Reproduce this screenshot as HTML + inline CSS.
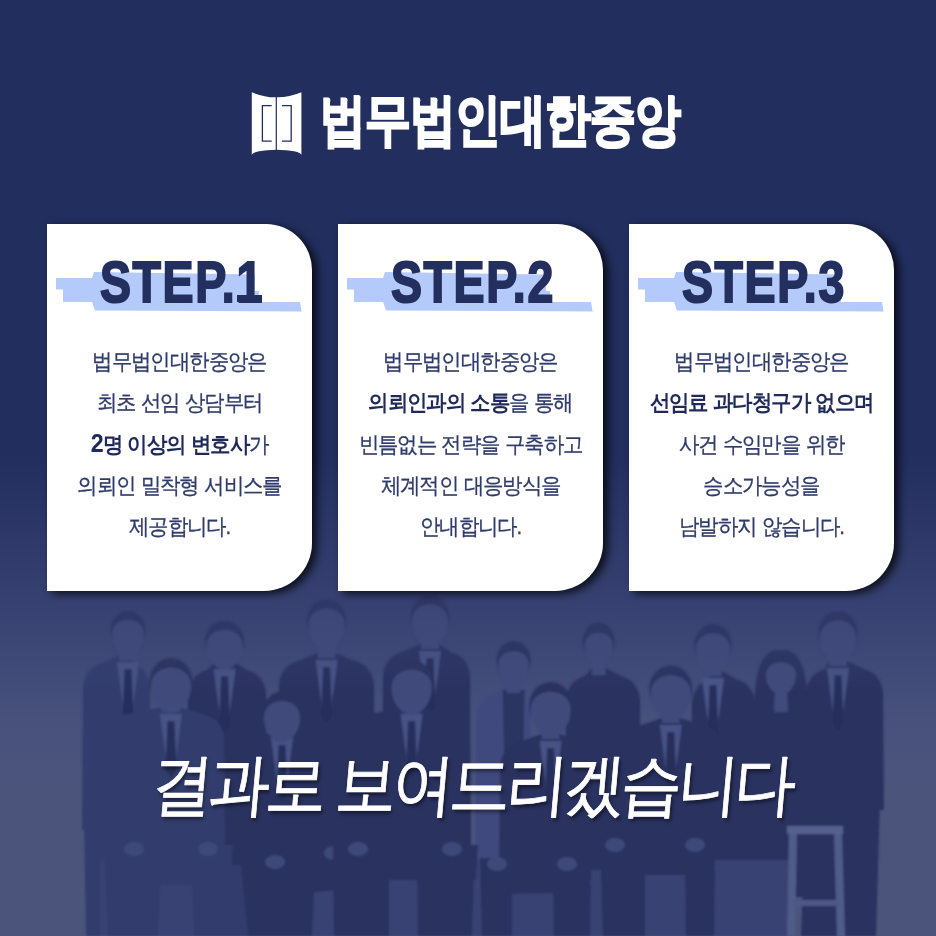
<!DOCTYPE html>
<html><head><meta charset="utf-8">
<style>
html,body{margin:0;padding:0;}
body{width:936px;height:936px;overflow:hidden;position:relative;font-family:"Liberation Sans",sans-serif;
background:linear-gradient(to bottom,#222e5e 0px,#222e5e 455px,#374171 600px,#47517c 720px,#4b557b 800px,#4b557b 936px);}
.abs{position:absolute;}
#photo{position:absolute;left:0;top:0;width:936px;height:936px;}
.logo-icon{position:absolute;left:251px;top:92px;width:52px;height:64px;}
.logo-text{position:absolute;left:320px;top:88px;height:64px;font-size:56px;font-weight:bold;color:#fff;white-space:nowrap;line-height:64px;letter-spacing:-1px;transform-origin:0 0;transform:scaleX(0.818);-webkit-text-stroke:2.4px #fff;}
.card{position:absolute;top:224px;width:265px;height:367px;background:#fff;border-radius:0 46px 48px 0;
box-shadow:5px 3px 9px rgba(0,0,0,0.75);}
.band{position:absolute;left:0;top:0;width:265px;height:100px;}
.title{position:absolute;left:53px;top:250px;font-size:57px;font-weight:bold;color:#232f5f;letter-spacing:2px;line-height:64px;white-space:nowrap;transform-origin:0 0;transform:scaleX(0.815);-webkit-text-stroke:2px #232f5f;}
.body{position:absolute;left:-20px;top:117px;width:305px;text-align:center;color:#2f3b6b;font-size:22px;line-height:41.25px;letter-spacing:-1.2px;word-spacing:1px;-webkit-text-stroke:0.3px #2f3b6b;transform:scaleX(0.93);transform-origin:50% 0;}
.body b{color:#1f2a5a;-webkit-text-stroke:0px #1f2a5a;}
.slogan{position:absolute;left:152px;top:744px;font-size:68px;letter-spacing:-4.6px;color:#fff;transform-origin:0 50%;transform:skewX(-5deg) scaleX(0.9);-webkit-text-stroke:0.8px #fff;white-space:nowrap;line-height:80px;text-shadow:2px 3px 4px rgba(0,0,0,0.5);}
</style></head>
<body>
<svg id="photo" width="936" height="936" viewBox="0 0 936 936">
<defs><linearGradient id="fade" x1="0" y1="0" x2="0" y2="1" gradientUnits="objectBoundingBox"><stop offset="0" stop-color="#fff" stop-opacity="0.5"/><stop offset="0.3" stop-color="#fff" stop-opacity="1"/></linearGradient><filter id="soft" x="-5%" y="-5%" width="110%" height="110%"><feGaussianBlur stdDeviation="0.9"/></filter><mask id="m" maskUnits="userSpaceOnUse" x="0" y="590" width="936" height="346"><rect x="0" y="590" width="936" height="346" fill="url(#fade)"/></mask></defs>
<g mask="url(#m)"><g filter="url(#soft)">
<path d="M84,820 L146,820 L116,936 L86,936 Z" fill="#333d6d"/>
<path d="M82,830 L83,686 Q85,668 102,663 L119,655 L137,655 L131,663 Q148,668 150,686 L151,830 Z" fill="#333d6d"/>
<path d="M120,647 L136,647 L137,660 L119,660 Z" fill="#404b7c"/>
<path d="M117,662 L139,662 L131,721 L125,721 Z" fill="#475285"/>
<path d="M124.5,669 L131.5,669 L133.5,718 L128,726 L122.5,718 Z" fill="#272f5b"/>
<ellipse cx="128.0" cy="630.0" rx="17.5" ry="19.0" fill="#29325f"/>
<path d="M112,634 C112,615.0 144,615.0 144,634 C144,647.0 135.2,656 128,656 C120.8,656 112,647.0 112,634 Z" fill="#404b7c"/>
<path d="M187,860 L188,693 Q190,675 207,670 L215.6,662 L233.6,662 L247,670 Q264,675 266,693 L267,860 Z" fill="#2a3360"/>
<path d="M216.6,660.5 L232.6,660.5 L233.6,667 L215.6,667 Z" fill="#404b7c"/>
<path d="M213.6,669 L235.6,669 L227.6,728 L221.6,728 Z" fill="#475285"/>
<path d="M221.1,676 L228.1,676 L230.1,725 L224.6,733 L219.1,725 Z" fill="#272f5b"/>
<ellipse cx="224.6" cy="641.5" rx="19.5" ry="21.0" fill="#29325f"/>
<path d="M206.6,645.5 C206.6,624.4 242.6,624.4 242.6,645.5 C242.6,659.6 232.7,669.5 224.6,669.5 C216.5,669.5 206.6,659.6 206.6,645.5 Z" fill="#404b7c"/>
<path d="M278,870 L279,684 Q281,666 298,661 L317.6,653 L335.6,653 L355,661 Q372,666 374,684 L375,870 Z" fill="#2a3360"/>
<path d="M318.6,641 L334.6,641 L335.6,658 L317.6,658 Z" fill="#404b7c"/>
<path d="M315.6,660 L337.6,660 L329.6,719 L323.6,719 Z" fill="#475285"/>
<path d="M323.1,667 L330.1,667 L332.1,716 L326.6,724 L321.1,716 Z" fill="#272f5b"/>
<ellipse cx="326.6" cy="621.0" rx="19.5" ry="22.0" fill="#29325f"/>
<path d="M308.6,625 C308.6,602.85 344.6,602.85 344.6,625 C344.6,639.65 334.70000000000005,650 326.6,650 C318.5,650 308.6,639.65 308.6,625 Z" fill="#404b7c"/>
<path d="M382,870 L383,675 Q385,657 402,652 L421,644 L439,644 L451,652 Q468,657 470,675 L471,870 Z" fill="#2a3360"/>
<path d="M422,637 L438,637 L439,649 L421,649 Z" fill="#404b7c"/>
<path d="M419,651 L441,651 L433,710 L427,710 Z" fill="#475285"/>
<path d="M426.5,658 L433.5,658 L435.5,707 L430,715 L424.5,707 Z" fill="#272f5b"/>
<ellipse cx="430.0" cy="617.0" rx="19.5" ry="22.0" fill="#29325f"/>
<path d="M412,621 C412,598.85 448,598.85 448,621 C448,635.65 438.1,646 430,646 C421.9,646 412,635.65 412,621 Z" fill="#404b7c"/>
<path d="M475,870 L476,717 Q478,699 495,694 L506.6,686 L520.6,686 L512,694 Q529,699 531,717 L532,870 Z" fill="#3f4a7e"/>
<path d="M502.6,690 L524.6,690 L520.6,870 L506.6,870 Z" fill="#2b3462"/>
<path d="M507.6,676 L519.6,676 L520.6,693 L506.6,693 Z" fill="#404b7c"/>
<ellipse cx="513.6" cy="660.0" rx="17.0" ry="19.0" fill="#29325f"/>
<path d="M498.6,664 C498.6,647.1 528.6,647.1 528.6,664 C528.6,675.9 520.35,684 513.6,684 C506.85,684 498.6,675.9 498.6,664 Z" fill="#404b7c"/>
<path d="M565,870 L566,699 Q568,681 585,676 L591.7,668 L605.7,668 L621,676 Q638,681 640,699 L641,870 Z" fill="#2a3360"/>
<path d="M592.7,657.5 L604.7,657.5 L605.7,675 L591.7,675 Z" fill="#404b7c"/>
<ellipse cx="598.7" cy="641.5" rx="16.0" ry="19.0" fill="#29325f"/>
<path d="M584.7,645.5 C584.7,628.6 612.7,628.6 612.7,645.5 C612.7,657.4 605.0,665.5 598.7,665.5 C592.4000000000001,665.5 584.7,657.4 584.7,645.5 Z" fill="#404b7c"/>
<path d="M691,860 L692,702 Q694,684 711,679 L704,671 L722,671 L736,679 Q753,684 755,702 L756,860 Z" fill="#2a3360"/>
<path d="M705,664 L721,664 L722,676 L704,676 Z" fill="#404b7c"/>
<path d="M702,678 L724,678 L716,737 L710,737 Z" fill="#4a5588"/>
<path d="M709.5,685 L716.5,685 L718.5,734 L713,742 L707.5,734 Z" fill="#272f5b"/>
<ellipse cx="713.0" cy="645.0" rx="18.5" ry="21.0" fill="#29325f"/>
<path d="M696,649 C696,627.9 730,627.9 730,649 C730,663.1 720.65,673 713,673 C705.35,673 696,663.1 696,649 Z" fill="#404b7c"/>
<path d="M806,800 L880,800 L876,936 L801,936 Z" fill="#2a3360"/>
<path d="M805,810 L806,692 Q808,674 825,669 L829,661 L847,661 L864,669 Q881,674 883,692 L884,810 Z" fill="#2a3360"/>
<path d="M830,653 L846,653 L847,666 L829,666 Z" fill="#404b7c"/>
<path d="M827,668 L849,668 L841,727 L835,727 Z" fill="#475285"/>
<path d="M834.5,675 L841.5,675 L843.5,724 L838,732 L832.5,724 Z" fill="#272f5b"/>
<ellipse cx="838.0" cy="633.0" rx="19.5" ry="22.0" fill="#29325f"/>
<path d="M820,637 C820,614.85 856,614.85 856,637 C856,651.65 846.1,662 838,662 C829.9,662 820,651.65 820,637 Z" fill="#404b7c"/>
<path d="M732,880 L790,880 L792,936 L730,936 Z" fill="#2a3360"/>
<path d="M755,723 Q751,647 781,650 Q811,647 807,723 Z" fill="#29325f"/>
<path d="M741,897 L742,736 Q744,718 761,713 L774,705 L788,705 L815,713 Q832,718 834,736 L835,897 Z" fill="#2a3360"/>
<path d="M775,687 L787,687 L788,712 L774,712 Z" fill="#404b7c"/>
<path d="M766,675 C766,658.1 796,658.1 796,675 C796,686.9 787.75,695 781,695 C774.25,695 766,686.9 766,675 Z" fill="#404b7c"/>
<path d="M100,860 L790,860 L790,936 L100,936 Z" fill="#384273"/>
<path d="M520,885 L590,885 L590,893 L520,893 Z" fill="#4f5a88"/>
<path d="M787,826 L843,826 L843,834 L787,834 Z" fill="#55608e"/>
<path d="M789,834 L797,834 L795,936 L787,936 Z" fill="#505b89"/>
<path d="M834,834 L842,834 L845,936 L837,936 Z" fill="#505b89"/>
<path d="M792,900 L840,900 L840,906 L792,906 Z" fill="#4d5886"/>
<path d="M104,845 L250,845 L252,885 L160,885 L158,936 L108,936 Z" fill="#333d6d"/>
<path d="M192,880 L252,880 L250,936 L194,936 Z" fill="#333d6d"/>
<path d="M102,860 L103,738 Q105,720 122,715 L162,707 L180,707 L205,715 Q222,720 224,738 L225,860 Z" fill="#333d6d"/>
<path d="M163,704 L179,704 L180,712 L162,712 Z" fill="#404b7c"/>
<path d="M160,714 L182,714 L174,773 L168,773 Z" fill="#475285"/>
<path d="M167.5,721 L174.5,721 L176.5,770 L171,778 L165.5,770 Z" fill="#272f5b"/>
<ellipse cx="171.0" cy="682.0" rx="21.5" ry="24.0" fill="#29325f"/>
<path d="M151,686 C151,661.75 191,661.75 191,686 C191,701.75 180.0,713 171,713 C162.0,713 151,701.75 151,686 Z" fill="#404b7c"/>
<ellipse cx="134.0" cy="849.0" rx="10.0" ry="7.0" fill="#3e4979"/>
<ellipse cx="208.0" cy="849.0" rx="10.0" ry="7.0" fill="#3e4979"/>
<path d="M240,855 L345,855 L340,890 L314,892 L312,936 L248,936 Z" fill="#2a3360"/>
<path d="M232,865 L233,762 Q235,744 252,739 L273,731 L291,731 L303,739 Q320,744 322,762 L323,865 Z" fill="#2a3360"/>
<path d="M274,733.6 L290,733.6 L291,736 L273,736 Z" fill="#404b7c"/>
<path d="M271,738 L293,738 L285,797 L279,797 Z" fill="#475285"/>
<path d="M278.5,745 L285.5,745 L287.5,794 L282,802 L276.5,794 Z" fill="#272f5b"/>
<ellipse cx="282.0" cy="713.6" rx="19.5" ry="22.0" fill="#29325f"/>
<path d="M264,717.6 C264,695.45 300,695.45 300,717.6 C300,732.25 290.1,742.6 282,742.6 C273.9,742.6 264,732.25 264,717.6 Z" fill="#404b7c"/>
<ellipse cx="275.0" cy="862.0" rx="10.0" ry="7.0" fill="#3e4979"/>
<ellipse cx="334.0" cy="853.0" rx="10.0" ry="7.0" fill="#3e4979"/>
<path d="M333,845 L478,845 L476,880 L417,880 L389,880 L389,936 L334,936 Z" fill="#2a3360"/>
<path d="M417,870 L474,870 L472,936 L418,936 Z" fill="#2a3360"/>
<path d="M347,855 L348,738 Q350,720 367,715 L402.6,707 L420.6,707 L451,715 Q468,720 470,738 L471,855 Z" fill="#2a3360"/>
<path d="M403.6,706 L419.6,706 L420.6,712 L402.6,712 Z" fill="#404b7c"/>
<path d="M400.6,714 L422.6,714 L414.6,773 L408.6,773 Z" fill="#475285"/>
<path d="M408.1,721 L415.1,721 L417.1,770 L411.6,778 L406.1,770 Z" fill="#272f5b"/>
<ellipse cx="411.6" cy="684.0" rx="21.5" ry="24.0" fill="#29325f"/>
<path d="M391.6,688 C391.6,663.75 431.6,663.75 431.6,688 C431.6,703.75 420.6,715 411.6,715 C402.6,715 391.6,703.75 391.6,688 Z" fill="#404b7c"/>
<ellipse cx="358.0" cy="849.0" rx="10.0" ry="7.0" fill="#3e4979"/>
<ellipse cx="452.0" cy="849.0" rx="10.0" ry="7.0" fill="#3e4979"/>
<path d="M480,858 L592,858 L590,892 L512,894 L512,936 L482,936 Z" fill="#2a3360"/>
<path d="M553,885 L591,885 L590,936 L554,936 Z" fill="#2a3360"/>
<path d="M499,870 L500,765 Q502,747 519,742 L541.6,734 L559.6,734 L586,742 Q603,747 605,765 L606,870 Z" fill="#2a3360"/>
<path d="M542.6,728 L558.6,728 L559.6,739 L541.6,739 Z" fill="#404b7c"/>
<path d="M539.6,741 L561.6,741 L553.6,800 L547.6,800 Z" fill="#475285"/>
<path d="M547.1,748 L554.1,748 L556.1,797 L550.6,805 L545.1,797 Z" fill="#272f5b"/>
<ellipse cx="550.6" cy="706.0" rx="21.5" ry="24.0" fill="#29325f"/>
<path d="M530.6,710 C530.6,685.75 570.6,685.75 570.6,710 C570.6,725.75 559.6,737 550.6,737 C541.6,737 530.6,725.75 530.6,710 Z" fill="#404b7c"/>
<ellipse cx="497.0" cy="864.0" rx="10.0" ry="7.0" fill="#3e4979"/>
<ellipse cx="567.0" cy="864.0" rx="10.0" ry="7.0" fill="#3e4979"/>
<path d="M600,845 L716,845 L714,875 L645,875 L645,936 L603,936 Z" fill="#2a3360"/>
<path d="M685,870 L715,870 L714,936 L686,936 Z" fill="#2a3360"/>
<path d="M619,855 L620,749 Q622,731 639,726 L661.8,718 L679.8,718 L705,726 Q722,731 724,749 L725,855 Z" fill="#2a3360"/>
<path d="M662.8,711.5 L678.8,711.5 L679.8,723 L661.8,723 Z" fill="#404b7c"/>
<path d="M659.8,725 L681.8,725 L673.8,784 L667.8,784 Z" fill="#475285"/>
<path d="M667.3,732 L674.3,732 L676.3,781 L670.8,789 L665.3,781 Z" fill="#272f5b"/>
<ellipse cx="670.8" cy="689.5" rx="21.5" ry="24.0" fill="#29325f"/>
<path d="M650.8,693.5 C650.8,669.25 690.8,669.25 690.8,693.5 C690.8,709.25 679.8,720.5 670.8,720.5 C661.8,720.5 650.8,709.25 650.8,693.5 Z" fill="#404b7c"/>
<ellipse cx="615.0" cy="845.0" rx="10.0" ry="7.0" fill="#3e4979"/>
<ellipse cx="695.0" cy="845.0" rx="10.0" ry="7.0" fill="#3e4979"/>

</g></g></svg>

<svg class="logo-icon" viewBox="0 0 52 64" width="52" height="64">
  <path d="M0.8,0.3 Q13.5,5.6 25.6,5.3 Q37.7,5.6 50.4,0.3 L50.4,63 A24.8 5.2 0 0 0 0.8,63 Z" fill="#fff"/>
  <rect x="24.7" y="4" width="1.2" height="56" fill="#222e5e"/>
  <path d="M20.7 13.6 H11.4 V49.1 H20.7" fill="none" stroke="#222e5e" stroke-width="1.3"/>
  <path d="M30.9 13.6 H40.2 V49.1 H30.9" fill="none" stroke="#222e5e" stroke-width="1.3"/>
</svg>
<div class="logo-text">법무법인대한중앙</div>

<div class="card" style="left:47px">
  <svg class="band" viewBox="0 0 265 100"><polygon points="9,54 45,54 47,48 208,50.5 208,67 212,67 212,78 253,78 254.6,87.4 48,86.6 45,78 16,78 16,65.6 9,65.6" fill="#b4cafb"/></svg>
  <div class="title" style="top:26px">STEP.1</div>
  <div class="abs" style="left:190px;top:71px;width:25px;height:7px;background:#232f5f"></div>
  <div class="body">법무법인대한중앙은<br>최초 선임 상담부터<br><b><span style="font-size:25px;line-height:0">2</span>명 이상의 변호사</b>가<br>의뢰인 밀착형 서비스를<br>제공합니다.</div>
</div>
<div class="card" style="left:338px">
  <svg class="band" viewBox="0 0 265 100"><polygon points="9,54 45,54 47,48 208,50.5 208,67 212,67 212,78 253,78 254.6,87.4 48,86.6 45,78 16,78 16,65.6 9,65.6" fill="#b4cafb"/></svg>
  <div class="title" style="top:26px">STEP.2</div>
  <div class="body">법무법인대한중앙은<br><b>의뢰인과의 소통</b>을 통해<br>빈틈없는 전략을 구축하고<br>체계적인 대응방식을<br>안내합니다.</div>
</div>
<div class="card" style="left:629px">
  <svg class="band" viewBox="0 0 265 100"><polygon points="9,54 45,54 47,48 208,50.5 208,67 212,67 212,78 253,78 254.6,87.4 48,86.6 45,78 16,78 16,65.6 9,65.6" fill="#b4cafb"/></svg>
  <div class="title" style="top:26px">STEP.3</div>
  <div class="body">법무법인대한중앙은<br><b>선임료 과다청구가 없으며</b><br>사건 수임만을 위한<br>승소가능성을<br>남발하지 않습니다.</div>
</div>

<div class="slogan">결과로 보여드리겠습니다</div>
</body></html>
